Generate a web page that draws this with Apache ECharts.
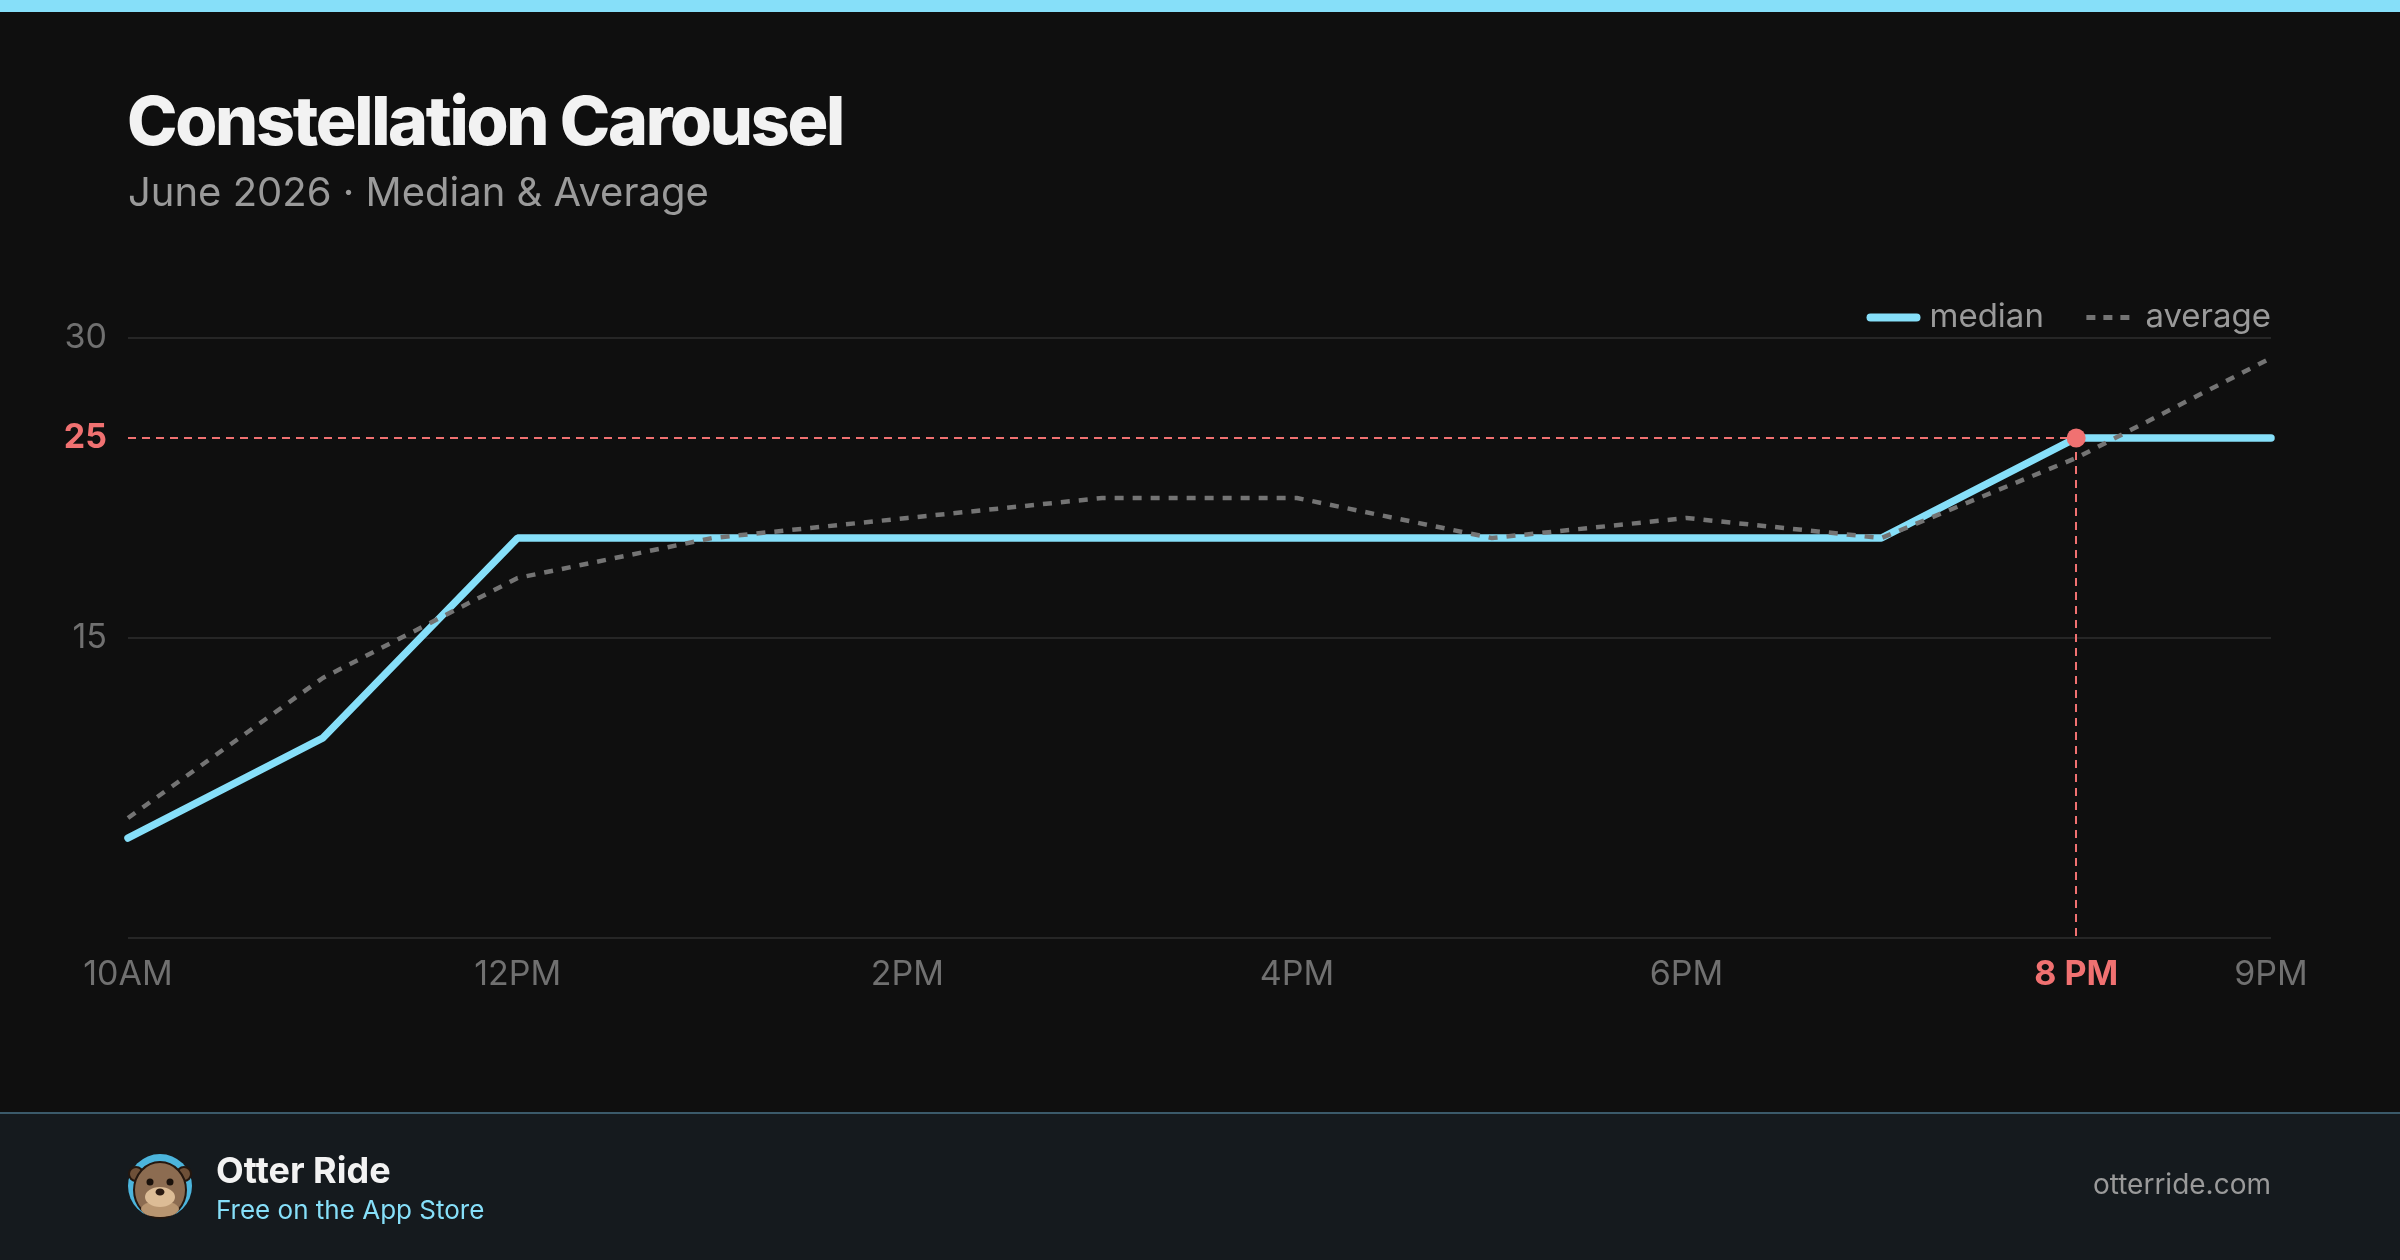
<!DOCTYPE html>
<html>
<head>
<meta charset="utf-8">
<script src="https://cdn.jsdelivr.net/npm/echarts@6/dist/echarts.min.js"></script>
<style>
    html, body { margin: 0; padding: 0; background: #0f0f0f; }
    #wrap { position: relative; width: 2400px; height: 1260px; }
    #chart { width: 2400px; height: 1260px; }
    .title {
        position: absolute; left: 127px; top: 78px; margin: 0;
        font-family: Inter, "Noto Sans", sans-serif; font-weight: 800;
        font-size: 68px; line-height: 84px; letter-spacing: -2.3px; color: #f2f2f2;
    }
</style>
</head>
<body>
<div id="wrap">
    <div id="chart"></div>
    <h1 class="title">Constellation Carousel</h1>
</div>
<script>
    // 数据
    var hours = ['10AM', '11AM', '12PM', '1PM', '2PM', '3PM', '4PM', '5PM', '6PM', '7PM', '8PM', '9PM'];
    var medianValues = [5, 10, 20, 20, 20, 20, 20, 20, 20, 20, 25, 25];
    var averageValues = [6, 13, 18, 20, 21, 22, 22, 20, 21, 20, 24, 29];
    var yTicks = [0, 15, 30];
    var highlightHour = '8PM';
    var highlightLabel = '8 PM';
    var threshold = 25;

    var CYAN = '#86dff9';
    var RED = '#f07171';
    var GREY_LINE = '#747474';
    var FONT = 'Inter, "Noto Sans", sans-serif';
    var HIDDEN = { color: 'rgba(0,0,0,0)', borderWidth: 0 };

    var chart = echarts.init(document.getElementById('chart'));

    var shownLabel = function (index) {
        return index % 2 === 0 || index === hours.length - 1;
    };

    var option = {
        animation: false,
        backgroundColor: '#0f0f0f',
        textStyle: { fontFamily: FONT },
        legend: {
            right: 124,
            top: 296,
            itemWidth: 46,
            itemHeight: 34,
            itemGap: 40,
            textStyle: { color: '#9a9a9a', fontSize: 33, fontFamily: FONT, padding: [0, 0, 0, 8] },
            data: [
                { name: 'median', itemStyle: HIDDEN, lineStyle: { width: 8, color: CYAN } },
                { name: 'average', itemStyle: HIDDEN, lineStyle: { width: 5, color: GREY_LINE, type: [9, 8] } }
            ]
        },
        grid: { left: 128, right: 129, top: 338, bottom: 322 },
        xAxis: {
            type: 'category',
            boundaryGap: false,
            data: hours,
            axisLine: { show: false },
            axisTick: { show: false },
            axisLabel: {
                interval: shownLabel,
                margin: 20,
                color: '#707070',
                fontSize: 34,
                fontFamily: FONT,
                formatter: function (value) {
                    return value === highlightHour ? '{hl|' + highlightLabel + '}' : value;
                },
                rich: {
                    hl: { color: RED, fontWeight: 'bold', fontSize: 34, fontFamily: FONT }
                }
            }
        },
        yAxis: {
            type: 'value',
            min: yTicks[0],
            max: yTicks[yTicks.length - 1],
            interval: yTicks[1] - yTicks[0],
            axisLine: { show: false },
            axisTick: { show: false },
            axisLabel: {
                margin: 21,
                color: '#707070',
                fontSize: 34,
                fontFamily: FONT,
                formatter: function (v) { return v === 0 ? '' : v; }
            },
            splitLine: { lineStyle: { color: '#262626', width: 2 } }
        },
        series: [
            {
                name: 'median',
                type: 'line',
                data: medianValues,
                symbol: 'none',
                lineStyle: { width: 7.5, color: CYAN, cap: 'round' },
                itemStyle: { color: CYAN },
                markLine: {
                    silent: true,
                    symbol: 'none',
                    lineStyle: { color: RED, type: [8, 6], width: 2 },
                    label: { show: false },
                    data: [
                        [
                            {
                                coord: [hours[0], threshold],
                                label: {
                                    show: true,
                                    position: 'start',
                                    distance: 21,
                                    formatter: String(threshold),
                                    color: RED,
                                    fontWeight: 'bold',
                                    fontSize: 34,
                                    fontFamily: FONT
                                }
                            },
                            { coord: [highlightHour, threshold] }
                        ],
                        [
                            { coord: [highlightHour, threshold] },
                            { coord: [highlightHour, 0] }
                        ]
                    ]
                },
                markPoint: {
                    silent: true,
                    symbol: 'circle',
                    symbolSize: 19,
                    itemStyle: { color: RED },
                    label: { show: false },
                    data: [{ coord: [highlightHour, threshold] }]
                }
            },
            {
                name: 'average',
                type: 'line',
                data: averageValues,
                symbol: 'none',
                lineStyle: { width: 4.5, color: GREY_LINE, type: [9, 9] },
                itemStyle: { color: GREY_LINE }
            }
        ],
        graphic: [
            { type: 'rect', shape: { x: 0, y: 0, width: 2400, height: 12 }, style: { fill: CYAN } },
            {
                type: 'text', x: 128, y: 194,
                style: { text: 'June 2026 · Median & Average', fill: '#9a9a9a', fontSize: 40, fontFamily: FONT, verticalAlign: 'middle' }
            },
            // 底部
            { type: 'rect', shape: { x: 0, y: 1113, width: 2400, height: 147 }, style: { fill: '#151a1e' } },
            { type: 'rect', shape: { x: 0, y: 1112, width: 2400, height: 2 }, style: { fill: '#3b5a6a' } },
            { type: 'circle', shape: { cx: 160, cy: 1186, r: 32 }, style: { fill: '#4cb5dd' } },
            { type: 'circle', shape: { cx: 136, cy: 1174, r: 7 }, style: { fill: '#6e5038', stroke: '#24170f', lineWidth: 2 } },
            { type: 'circle', shape: { cx: 184, cy: 1174, r: 7 }, style: { fill: '#6e5038', stroke: '#24170f', lineWidth: 2 } },
            { type: 'ellipse', shape: { cx: 160, cy: 1190, rx: 26, ry: 28 }, style: { fill: '#8c6c51', stroke: '#24170f', lineWidth: 2 } },
            { type: 'ellipse', shape: { cx: 160, cy: 1209, rx: 19, ry: 8 }, style: { fill: '#b89570' } },
            { type: 'ellipse', shape: { cx: 160, cy: 1197, rx: 15, ry: 10 }, style: { fill: '#dcbc96' } },
            { type: 'circle', shape: { cx: 150, cy: 1182, r: 3.5 }, style: { fill: '#1a110b' } },
            { type: 'circle', shape: { cx: 170, cy: 1182, r: 3.5 }, style: { fill: '#1a110b' } },
            { type: 'ellipse', shape: { cx: 160, cy: 1192, rx: 4.5, ry: 3.5 }, style: { fill: '#2a1a12' } },
            {
                type: 'text', x: 216, y: 1172,
                style: { text: 'Otter Ride', fill: '#f2f2f2', fontSize: 36, fontWeight: 'bold', fontFamily: FONT, verticalAlign: 'middle' }
            },
            {
                type: 'text', x: 216, y: 1211,
                style: { text: 'Free on the App Store', fill: CYAN, fontSize: 26, fontFamily: FONT, verticalAlign: 'middle' }
            },
            {
                type: 'text', x: 2271, y: 1186,
                style: { text: 'otterride.com', fill: '#9a9a9a', fontSize: 28, fontFamily: FONT, align: 'right', verticalAlign: 'middle' }
            }
        ]
    };

    chart.setOption(option);
</script>
</body>
</html>
